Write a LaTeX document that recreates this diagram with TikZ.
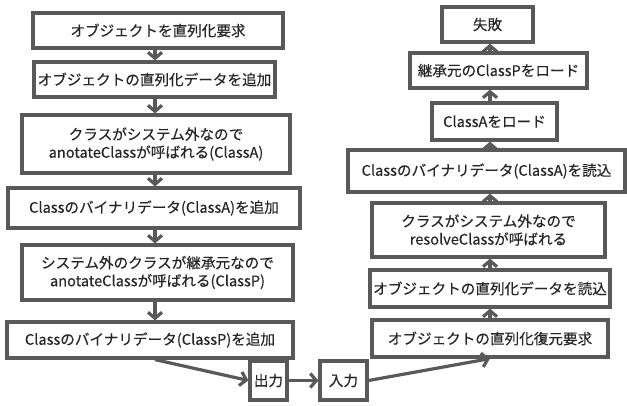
\documentclass[tikz,border=0pt]{standalone}
\usepackage{fontspec}
\setmainfont{Noto Sans CJK JP}[FakeBold=0.3]
\usetikzlibrary{arrows.meta}
\definecolor{edge}{HTML}{595959}
\definecolor{txt}{HTML}{262626}
\tikzset{
  box/.style={draw=edge, line width=3.2pt, fill=white, text=txt, inner sep=0pt,
    font=\fontsize{14.6}{18}\selectfont, align=center},
  arr/.style={draw=edge, line width=3.2pt, -{Straight Barb[length=6pt,width=14pt]}}
}
\begin{document}
\begin{tikzpicture}[x=1pt,y=-1pt]
\useasboundingbox (0,0) rectangle (627,405);
% left column
\node[box, minimum width=250, minimum height=35] (L1) at (158,30.5) {オブジェクトを直列化要求};
\node[box, minimum width=241, minimum height=35] (L2) at (154.5,79.5) {オブジェクトの直列化データを追加};
\node[box, minimum width=268, minimum height=58] (L3) at (156,144) {クラスがシステム外なので\\anotateClassが呼ばれる(ClassA)};
\node[box, minimum width=292, minimum height=40] (L4) at (154,208) {Classのバイナリデータ(ClassA)を追加};
\node[box, minimum width=271, minimum height=55] (L5) at (157.5,272.5) {システム外のクラスが継承元なので\\anotateClassが呼ばれる(ClassP)};
\node[box, minimum width=286, minimum height=36] (L6) at (150,340) {Classのバイナリデータ(ClassP)を追加};
\node[box, minimum width=37, minimum height=39] (OUT) at (268.5,380.5) {出力};
\node[box, minimum width=47, minimum height=39] (IN) at (343.5,380.5) {入力};
% right column
\node[box, minimum width=236, minimum height=37] (R1) at (490,338.5) {オブジェクトの直列化復元要求};
\node[box, minimum width=240, minimum height=37] (R2) at (490,288.5) {オブジェクトの直列化データを読込};
\node[box, minimum width=233, minimum height=54] (R3) at (488.5,230) {クラスがシステム外なので\\resolveClassが呼ばれる};
\node[box, minimum width=277, minimum height=42] (R4) at (486.5,171) {Classのバイナリデータ(ClassA)を読込};
\node[box, minimum width=125, minimum height=37] (R5) at (494.5,121.5) {ClassAをロード};
\node[box, minimum width=177, minimum height=35] (R6) at (498.5,70.5) {継承元のClassPをロード};
\node[box, minimum width=91, minimum height=35] (R7) at (487.5,24.5) {失敗};
% left arrows
\coordinate (lx) at (155,0);
\draw[arr] (L1.south -| lx) -- (L2.north -| lx);
\draw[arr] (L2.south -| lx) -- (L3.north -| lx);
\draw[arr] (L3.south -| lx) -- (L4.north -| lx);
\draw[arr] (L4.south -| lx) -- (L5.north -| lx);
\draw[arr] (L5.south -| lx) -- (L6.north -| lx);
\draw[arr] (L6.south -| lx) -- (OUT.west);
\draw[arr] (OUT.east) -- (IN.west);
\draw[arr] (IN.east) -- (R1.south);
% right arrows
\coordinate (rx) at (490,0);
\draw[arr] (R1.north -| rx) -- (R2.south -| rx);
\draw[arr] (R2.north -| rx) -- (R3.south -| rx);
\draw[arr] (R3.north -| rx) -- (R4.south -| rx);
\draw[arr] (R4.north -| rx) -- (R5.south -| rx);
\draw[arr] (R5.north -| rx) -- (R6.south -| rx);
\draw[arr] (R6.north -| rx) -- (R7.south -| rx);
\end{tikzpicture}
\end{document}
